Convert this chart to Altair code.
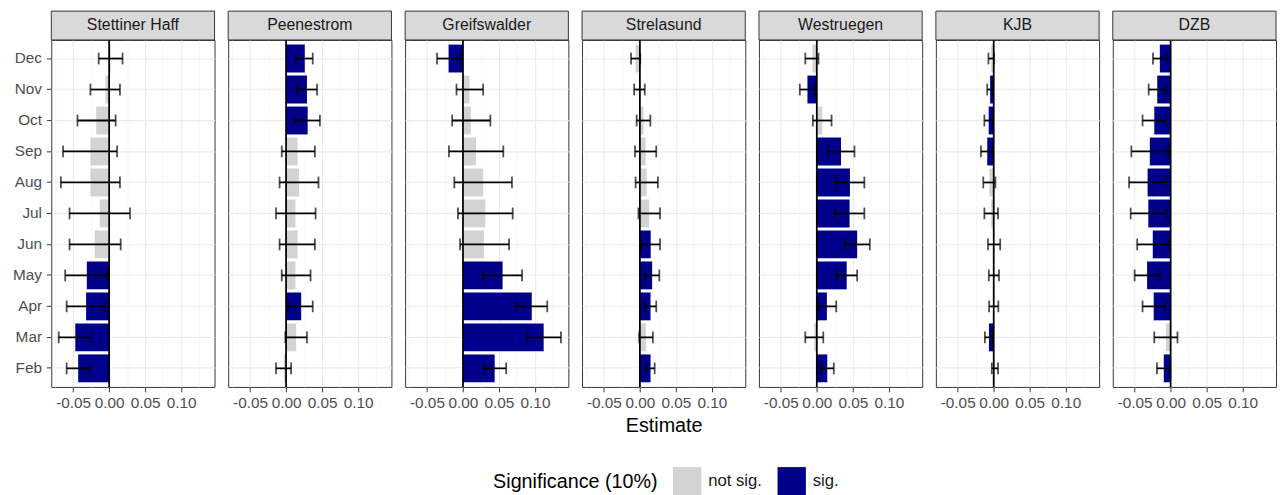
import altair as alt
import pandas as pd

months = ["Feb", "Mar", "Apr", "May", "Jun", "Jul", "Aug", "Sep", "Oct", "Nov", "Dec"]
months_top_down = months[::-1]
sites = ["Stettiner Haff", "Peenestrom", "Greifswalder", "Strelasund", "Westruegen", "KJB", "DZB"]
sig_labels = ["not sig.", "sig."]

# values listed Feb .. Dec
est_stettiner = [-0.043, -0.047, -0.032, -0.031, -0.020, -0.013, -0.026, -0.026, -0.018, -0.005, 0.002]
lo_stettiner = [-0.059, -0.070, -0.059, -0.061, -0.055, -0.055, -0.067, -0.064, -0.044, -0.026, -0.0145]
hi_stettiner = [-0.027, -0.024, -0.006, -0.003, 0.016, 0.029, 0.015, 0.011, 0.009, 0.015, 0.0186]
sig_stettiner = [1, 1, 1, 1, 0, 0, 0, 0, 0, 0, 0]

est_peene = [-0.003, 0.014, 0.021, 0.013, 0.016, 0.013, 0.018, 0.016, 0.030, 0.029, 0.026]
lo_peene = [-0.014, -0.001, 0.003, -0.006, -0.009, -0.014, -0.009, -0.006, 0.011, 0.015, 0.014]
hi_peene = [0.007, 0.029, 0.037, 0.034, 0.040, 0.041, 0.045, 0.040, 0.047, 0.043, 0.037]
sig_peene = [0, 0, 1, 0, 0, 0, 0, 0, 1, 1, 1]

est_greifs = [0.044, 0.112, 0.0955, 0.055, 0.029, 0.031, 0.028, 0.018, 0.011, 0.009, -0.020]
lo_greifs = [0.029, 0.089, 0.074, 0.028, -0.004, -0.007, -0.012, -0.0195, -0.015, -0.009, -0.036]
hi_greifs = [0.060, 0.136, 0.117, 0.082, 0.064, 0.069, 0.068, 0.056, 0.038, 0.028, -0.004]
sig_greifs = [1, 1, 1, 1, 0, 0, 0, 0, 0, 0, 1]

est_strela = [0.0148, 0.0085, 0.0148, 0.017, 0.015, 0.013, 0.0095, 0.008, 0.005, -0.001, -0.006]
lo_strela = [0.009, -0.001, 0.0068, 0.0068, 0.0014, -0.002, -0.006, -0.0068, -0.0045, -0.008, -0.0123]
hi_strela = [0.0205, 0.018, 0.0227, 0.027, 0.028, 0.028, 0.025, 0.0227, 0.0145, 0.0068, 0.0005]
sig_strela = [1, 0, 1, 1, 1, 0, 0, 0, 0, 0, 0]

est_westr = [0.0145, -0.0035, 0.014, 0.0415, 0.056, 0.0455, 0.046, 0.0336, 0.0075, -0.013, -0.006]
lo_westr = [0.0055, -0.016, 0.0014, 0.027, 0.0386, 0.025, 0.026, 0.015, -0.0055, -0.0236, -0.016]
hi_westr = [0.0236, 0.009, 0.027, 0.056, 0.0736, 0.066, 0.066, 0.0523, 0.0205, -0.0023, 0.0023]
sig_westr = [1, 0, 1, 1, 1, 1, 1, 1, 0, 1, 0]

est_kjb = [0.0016, -0.0066, 0.0, 0.0002, 0.0005, -0.0035, -0.006, -0.009, -0.007, -0.005, -0.0036]
lo_kjb = [-0.0027, -0.0123, -0.0064, -0.0068, -0.008, -0.013, -0.0145, -0.0177, -0.013, -0.009, -0.0073]
hi_kjb = [0.006, -0.001, 0.0064, 0.0073, 0.009, 0.006, 0.0023, -0.0018, -0.001, -0.001, 0.0003]
sig_kjb = [0, 1, 0, 0, 0, 0, 0, 1, 1, 1, 0]

est_dzb = [-0.0095, -0.0066, -0.0235, -0.0327, -0.0248, -0.031, -0.032, -0.0289, -0.0227, -0.0186, -0.015]
lo_dzb = [-0.019, -0.0227, -0.039, -0.050, -0.0464, -0.0555, -0.0577, -0.0545, -0.039, -0.0305, -0.0245]
hi_dzb = [-0.0005, 0.0095, -0.0077, -0.0155, -0.0032, -0.0064, -0.0064, -0.0032, -0.0064, -0.0068, -0.0055]
sig_dzb = [1, 0, 1, 1, 1, 1, 1, 1, 1, 1, 1]

series = {
    "Stettiner Haff": (est_stettiner, lo_stettiner, hi_stettiner, sig_stettiner),
    "Peenestrom": (est_peene, lo_peene, hi_peene, sig_peene),
    "Greifswalder": (est_greifs, lo_greifs, hi_greifs, sig_greifs),
    "Strelasund": (est_strela, lo_strela, hi_strela, sig_strela),
    "Westruegen": (est_westr, lo_westr, hi_westr, sig_westr),
    "KJB": (est_kjb, lo_kjb, hi_kjb, sig_kjb),
    "DZB": (est_dzb, lo_dzb, hi_dzb, sig_dzb),
}

W, H = 167, 355
STRIP = 29.5
XDOM = [-0.0803, 0.1463]
FONT = "Liberation Sans"
MAJOR_TEST = "abs(datum.value / 0.05 - round(datum.value / 0.05)) < 0.01"
x_values = [-0.075, -0.05, -0.025, 0.0, 0.025, 0.05, 0.075, 0.1, 0.125]
PAD = {"left": 3.3, "top": -4, "right": 0, "bottom": 0}

color_scale = alt.Scale(domain=sig_labels, range=["#D3D3D3", "#00008B"])
x_scale = alt.Scale(domain=XDOM, nice=False, zero=False)
y_scale = alt.Scale(domain=months_top_down, paddingInner=0.1, paddingOuter=0.15)


def make_x_axis(title):
    kw = dict(
        values=x_values,
        labelExpr=MAJOR_TEST + " ? replace(format(datum.value, '.2f'), '\u2212', '-') : ''",
        labelOverlap=False,
        labelFlush=False,
        labelFontSize=15.7,
        labelColor="#4D4D4D",
        labelPadding=4,
        tickSize=5,
        tickColor="#333333",
        tickOpacity={"condition": {"test": MAJOR_TEST, "value": 1}, "value": 0},
        grid=True,
        gridColor={"condition": {"test": MAJOR_TEST, "value": "#EBEBEB"}, "value": "#F3F3F3"},
        gridWidth={"condition": {"test": MAJOR_TEST, "value": 1.1}, "value": 0.7},
        domain=False,
    )
    if title:
        kw.update(title=title, titleFontSize=20.2, titleFontWeight="normal",
                  titleColor="#000000", titlePadding=6)
    else:
        kw.update(title=None)
    return alt.Axis(**kw)


def make_y_axis(first):
    if first:
        return alt.Axis(title=None, labelFontSize=15.7, labelColor="#4D4D4D", labelPadding=5,
                        tickSize=5, tickColor="#333333", domain=False, grid=True,
                        gridColor="#EBEBEB", gridWidth=1.1, bandPosition=0.5)
    return alt.Axis(title=None, labels=False, ticks=False, domain=False, grid=True,
                    gridColor="#EBEBEB", gridWidth=1.1, bandPosition=0.5)


def panel(i, site):
    est, lo, hi, sig = series[site]
    df = pd.DataFrame({
        "month": months,
        "est": est,
        "lo": lo,
        "hi": hi,
        "sig": [sig_labels[s] for s in sig],
    })
    xa = make_x_axis("Estimate" if site == "Strelasund" else None)
    ya = make_y_axis(i == 0)
    y = alt.Y("month:N", scale=y_scale, axis=ya, sort=months_top_down)
    base = alt.Chart(df)

    bars = base.mark_bar().encode(
        x=alt.X("est:Q", scale=x_scale, axis=xa),
        x2=alt.datum(0),
        y=y,
        color=alt.Color("sig:N", scale=color_scale, legend=alt.Legend(
            title="Significance (10%)")),
    )
    zero = base.mark_rule(color="#000000", strokeWidth=1.8).encode(
        x=alt.X("z:Q", scale=x_scale, axis=xa)
    ).transform_calculate(z="0").transform_filter(alt.datum.month == "Feb")
    err = base.mark_rule(color="#000000", strokeWidth=1.8).encode(
        x=alt.X("lo:Q", scale=x_scale, axis=xa), x2="hi:Q", y=y)
    cap_lo = base.mark_tick(color="#000000", size=12, thickness=1.8).encode(
        x=alt.X("lo:Q", scale=x_scale, axis=xa), y=y)
    cap_hi = base.mark_tick(color="#000000", size=12, thickness=1.8).encode(
        x=alt.X("hi:Q", scale=x_scale, axis=xa), y=y)

    strip_df = pd.DataFrame({"site": [site]})
    strip = alt.Chart(strip_df).mark_rect(fill="#D9D9D9", stroke="#333333", strokeWidth=1).encode(
        x=alt.value(0), x2=alt.value(W), y=alt.value(-STRIP), y2=alt.value(0))
    strip_text = alt.Chart(strip_df).mark_text(fontSize=16.2, color="#1A1A1A", baseline="middle",
                                               align="center", font=FONT).encode(
        x=alt.value(W / 2), y=alt.value(-STRIP / 2), text="site:N")

    return alt.layer(bars, zero, err, cap_lo, cap_hi, strip, strip_text).properties(width=W, height=H)


chart = alt.hconcat(*[panel(i, s) for i, s in enumerate(sites)], spacing=12,
                    padding=PAD).resolve_scale(
    color="shared").resolve_legend(color="shared").configure(
    font=FONT
).configure_view(
    stroke="#333333", strokeWidth=1
).configure_legend(
    orient="none", legendX=452, legendY=437, direction="horizontal",
    titleOrient="left", titleFontSize=20.2, titleFontWeight="normal", titleColor="#000000",
    titleAnchor="middle", titleBaseline="middle", titlePadding=15,
    labelFontSize=17.1, labelColor="#1A1A1A", labelOffset=7, columnPadding=15,
    symbolType="square", symbolSize=841, symbolStrokeWidth=0, symbolOpacity=1,
)

chart.save("out.html", embed_options={"renderer": "svg", "actions": False})
